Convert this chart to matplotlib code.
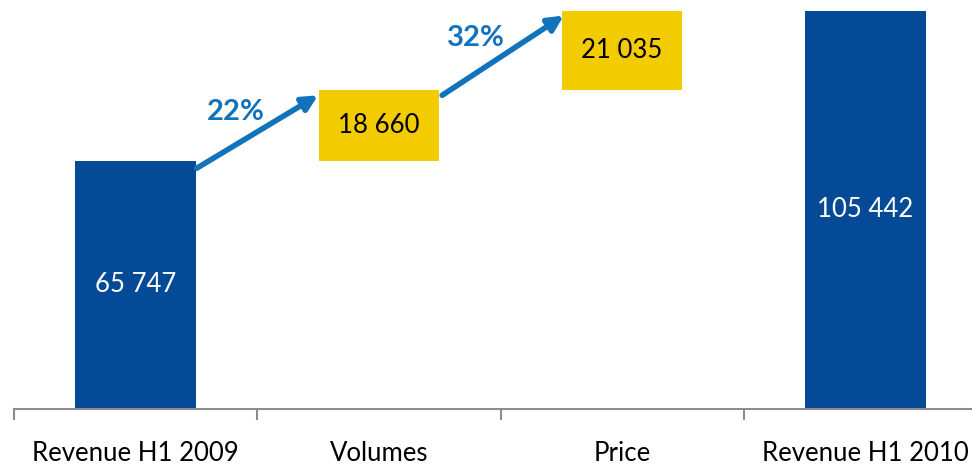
import matplotlib
matplotlib.use('Agg')
import matplotlib.pyplot as plt

# Gegevens
categorieen = ['Revenue H1 2009', 'Volumes', 'Price', 'Revenue H1 2010']
waarden = [65747, 18660, 21035, 105442]
labels = ['65 747', '18 660', '21 035', '105 442']
procenten = ['22%', '32%']

blauw = '#044A96'
geel = '#F2CB00'
pijl_blauw = '#1273BD'

plt.rcParams['font.family'] = ['Lato', 'DejaVu Sans']

fig = plt.figure(figsize=(9.72, 4.66), dpi=100)
# de x-as loopt rechts door tot buiten het beeld
ax = fig.add_axes([14 / 972, 57 / 466, 973 / 972, 398 / 466])

# basis voor de waterval
basis = [0, waarden[0], waarden[0] + waarden[1], 0]
kleuren = [blauw, geel, geel, blauw]
tekstkleur = ['white', 'black', 'black', 'white']

x = range(len(categorieen))
ax.bar(x, waarden, bottom=basis, width=0.495, color=kleuren, zorder=2)
for i in x:
    ax.text(i, basis[i] + waarden[i] / 2, labels[i], ha='center', va='center',
            fontsize=18.5, color=tekstkleur[i], zorder=3)

# pijlen tussen de blokken
top1 = waarden[0] + waarden[1]
top2 = top1 + waarden[2]
pijlen = [((0.25, waarden[0] - 2000), (0.75, top1 - 1300)),
          ((1.26, top1 - 1300), (1.76, top2 - 1200))]
for start, eind in pijlen:
    ax.annotate('', xy=eind, xytext=start,
                arrowprops=dict(arrowstyle='-|>,head_length=0.9,head_width=0.45',
                                color=pijl_blauw, lw=4, shrinkA=0, shrinkB=0),
                zorder=4)

ax.text(0.41, 78600, procenten[0], ha='center', va='center', fontsize=21,
        fontweight='bold', color=pijl_blauw)
ax.text(1.40, 98300, procenten[1], ha='center', va='center', fontsize=21,
        fontweight='bold', color=pijl_blauw)

ax.set_xlim(-0.5, 3.5)
ax.set_ylim(0, 105442)

for s in ['top', 'right', 'left']:
    ax.spines[s].set_visible(False)
ax.spines['bottom'].set_color('#8C8C8C')
ax.spines['bottom'].set_linewidth(1.5)
ax.set_yticks([])

ax.set_xticks([-0.5, 0.5, 1.5, 2.5, 3.5])
ax.set_xticklabels([])
ax.tick_params(axis='x', which='major', length=8, width=1.5, color='#8C8C8C')
ax.set_xticks(list(x), minor=True)
ax.set_xticklabels(categorieen, minor=True, fontsize=18.5)
ax.tick_params(axis='x', which='minor', length=0, pad=23)

fig.savefig('out.png', dpi=100)
